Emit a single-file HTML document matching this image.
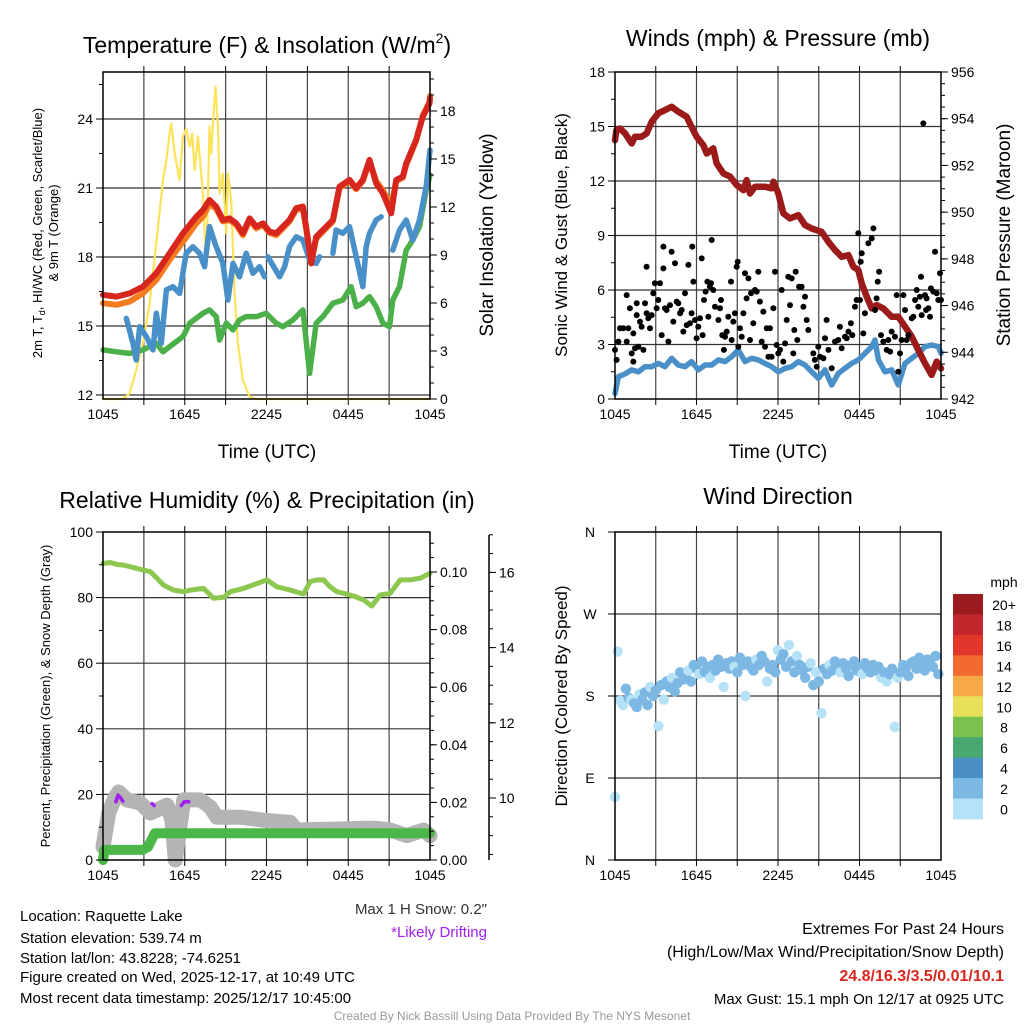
<!DOCTYPE html>
<html><head><meta charset="utf-8"><style>
html,body{margin:0;padding:0;background:#fff;}
svg{display:block;font-family:"Liberation Sans",Arial,sans-serif;}
</style></head><body>
<svg id="chart" xmlns="http://www.w3.org/2000/svg" width="1024" height="1024" viewBox="0 0 1024 1024">
<rect width="1024" height="1024" fill="#fff"/>
<g id="static">
<text x="267" y="53" font-size="23" text-anchor="middle">Temperature (F) &amp; Insolation (W/m<tspan font-size="14" dy="-10">2</tspan><tspan dy="10">)</tspan></text>
<text x="778" y="46" font-size="23" text-anchor="middle">Winds (mph) &amp; Pressure (mb)</text>
<text x="267" y="508" font-size="23" text-anchor="middle">Relative Humidity (%) &amp; Precipitation (in)</text>
<text x="778" y="504" font-size="23" text-anchor="middle">Wind Direction</text>
<text x="267" y="458" font-size="19" text-anchor="middle">Time (UTC)</text>
<text x="778" y="458" font-size="19" text-anchor="middle">Time (UTC)</text>
<text transform="translate(42,233) rotate(-90)" font-size="13" text-anchor="middle">2m T, T<tspan font-size="9" dy="3">d</tspan><tspan dy="-3">, HI/WC (Red, Green, Scarlet/Blue)</tspan></text>
<text transform="translate(58,233) rotate(-90)" font-size="13" text-anchor="middle">&amp; 9m T (Orange)</text>
<text transform="translate(493,235) rotate(-90)" font-size="19" text-anchor="middle">Solar Insolation (Yellow)</text>
<text transform="translate(567,235) rotate(-90)" font-size="17" text-anchor="middle">Sonic Wind &amp; Gust (Blue, Black)</text>
<text transform="translate(1010,235) rotate(-90)" font-size="19" text-anchor="middle">Station Pressure (Maroon)</text>
<text transform="translate(50,696) rotate(-90)" font-size="13" text-anchor="middle">Percent, Precipitation (Green), &amp; Snow Depth (Gray)</text>
<text transform="translate(567,696) rotate(-90)" font-size="17" text-anchor="middle">Direction (Colored By Speed)</text>
<g font-size="15">
<text x="20" y="921">Location: Raquette Lake</text>
<text x="20" y="943">Station elevation: 539.74 m</text>
<text x="20" y="963">Station lat/lon: 43.8228; -74.6251</text>
<text x="20" y="982">Figure created on Wed, 2025-12-17, at 10:49 UTC</text>
<text x="20" y="1003">Most recent data timestamp: 2025/12/17 10:45:00</text>
</g>
<text x="487" y="914" font-size="15" text-anchor="end" fill="#333">Max 1 H Snow: 0.2"</text>
<text x="487" y="937" font-size="15" text-anchor="end" fill="#a020f0">*Likely Drifting</text>
<text x="1004" y="934" font-size="16" text-anchor="end">Extremes For Past 24 Hours</text>
<text x="1004" y="957" font-size="16" text-anchor="end">(High/Low/Max Wind/Precipitation/Snow Depth)</text>
<text x="1004" y="981" font-size="16" font-weight="bold" text-anchor="end" fill="#d7261e">24.8/16.3/3.5/0.01/10.1</text>
<text x="1004" y="1004" font-size="15" text-anchor="end">Max Gust: 15.1 mph On 12/17 at 0925 UTC</text>
<text x="512" y="1020" font-size="12" text-anchor="middle" fill="#999">Created By Nick Bassill Using Data Provided By The NYS Mesonet</text>
</g>
<g id="dyn"></g>
</svg>
<script>
// ---------- DATA ----------
const xTickLabels = ["1045","1645","2245","0445","1045"];
// Panel 1: temperature
const redHours = [0,0.98,1.96,2.93,3.91,4.89,5.87,6.85,7.33,7.82,8.31,8.8,9.29,9.78,10.27,10.76,11.25,11.74,12.22,12.71,13.2,13.69,14.18,14.67,14.91,15.28,15.65,16.14,16.87,17.36,18.09,18.58,19.07,19.56,20.05,20.54,21.15,21.52,22.0,22.25,22.98,23.47,23.96,24];
const redTemp = [16.35,16.28,16.42,16.71,17.29,18.16,19.03,19.75,20.04,20.48,20.19,19.61,19.68,19.46,19.03,19.68,19.32,19.46,19.1,19.03,19.32,19.61,20.12,20.19,19.32,17.72,18.88,19.17,19.61,21.06,21.35,20.99,21.35,22.22,21.2,20.77,19.9,21.35,21.49,22.07,23.09,24.1,24.68,24.9];
const orangeTemp = [15.99,15.92,16.06,16.42,17.0,17.87,18.67,19.46,19.75,20.3,20.1,19.55,19.6,19.4,18.95,19.6,19.25,19.4,19.05,18.95,19.25,19.55,20.05,20.1,19.25,17.8,18.8,19.1,19.55,21.0,21.3,20.95,21.3,22.15,21.3,20.9,20.2,21.3,21.45,22.0,23.05,24.15,24.75,25.0];
const blueHours = [1.71,2.2,2.44,2.69,3.18,3.67,3.91,4.28,4.65,5.13,5.62,6.11,6.6,7.09,7.46,7.82,8.31,8.8,9.17,9.54,10.02,10.51,11.0,11.49,11.86,null,12.1,12.96,13.33,13.69,14.18,14.67,15.16,15.65,15.89,null,16.87,17.11,17.6,18.09,18.58,19.07,19.32,19.56,20.05,20.42,null,21.27,21.76,22.25,22.74,23.23,23.72,24];
const blueTemp = [15.33,14.25,13.52,14.97,14.54,13.96,15.55,14.25,16.57,16.71,16.42,18.16,18.45,18.16,17.58,19.32,18.45,17.72,16.13,17.72,17.14,18.16,17.29,17.58,17.14,null,18.01,17.14,17.58,18.45,18.88,18.74,17.87,17.72,18.01,null,18.16,19.17,19.03,19.32,18.01,16.71,18.45,19.03,19.61,19.75,null,18.3,19.17,19.61,18.74,19.61,21.06,22.65];
const greenHours = [0,0.98,1.96,2.93,3.91,4.4,4.89,5.87,6.36,7.33,7.82,8.31,8.56,9.05,9.54,10.02,10.51,11.25,11.98,12.71,13.2,13.94,14.67,15.16,15.65,16.14,16.87,17.6,18.22,18.58,19.07,19.56,20.05,20.54,21.03,21.27,21.76,22.25,22.74,23.23,23.72,24];
const greenTemp = [13.96,13.88,13.81,13.96,14.25,13.88,14.1,14.54,15.12,15.55,15.7,15.41,14.39,15.12,14.83,15.26,15.41,15.41,15.55,15.12,14.97,15.26,15.7,12.94,15.12,15.41,15.99,16.13,16.71,15.84,15.99,16.28,15.84,15.12,14.97,16.13,16.71,18.3,18.74,19.32,20.91,21.57];
const solarHours = [0,1.47,1.96,2.44,2.93,3.42,3.91,4.4,4.65,4.89,5.01,5.26,5.62,5.87,6.11,6.36,6.55,6.72,6.97,7.33,7.58,7.82,7.95,8.07,8.26,8.44,8.56,8.8,9.05,9.17,9.41,9.66,9.9,10.27,10.76,11.25,24];
const solarVal = [0,0,0.35,1.81,3.48,5.98,9.73,13.69,14.94,16.6,17.23,15.35,13.69,16.4,16.9,15.77,16.6,14.3,16.4,12.85,8.27,17.02,15.35,17.23,19.52,17.02,12.85,14.1,10.35,14.1,12.44,6.6,3.48,1.19,0.15,0,0];
const tempTicks = [12,15,18,21,24];
const solarTicks = [0,3,6,9,12,15,18];
// Panel 2: winds & pressure
const presHours = [0,0.1,0.37,0.74,1.23,1.47,1.96,2.33,2.7,3.19,3.68,4.17,4.66,5.28,5.64,6.01,6.5,6.75,7.24,7.48,7.98,8.47,8.96,9.45,9.69,9.94,10.31,11.04,11.53,11.66,12.02,12.39,12.88,13.5,13.99,14.48,15.21,15.71,16.2,16.69,17.18,17.55,17.91,18.16,18.53,18.9,19.26,19.75,20.37,20.86,21.35,21.84,22.33,22.82,23.31,23.68,24];
const presMb = [953.08,953.51,953.58,953.37,952.94,953.23,953.23,953.37,953.87,954.23,954.37,954.51,954.3,954.08,953.65,953.23,952.87,952.51,952.73,952.09,951.66,951.52,951.16,950.94,951.37,950.8,951.09,951.09,951.02,951.3,950.8,949.95,949.73,949.87,949.45,949.3,949.16,948.73,948.38,948.09,948.16,947.66,947.52,946.95,946.38,945.88,946.02,945.88,945.52,945.52,945.1,944.67,944.1,943.53,943.03,943.6,943.31];
const sonicHours = [0,0.25,0.74,1.23,1.72,2.21,2.7,3.19,3.68,4.17,4.66,5.15,5.64,6.13,6.63,7.12,7.61,8.1,8.59,9.08,9.57,10.06,10.55,11.04,11.53,12.02,12.52,13.01,13.5,13.99,14.48,14.97,15.46,15.95,16.44,16.93,17.42,17.91,18.4,18.9,19.14,19.39,19.88,20.37,20.86,21.35,21.84,22.33,22.82,23.31,23.8,24];
const sonicMph = [0.31,1.23,1.38,1.6,1.5,1.78,1.78,1.96,1.78,2.24,1.87,1.78,2.06,1.6,1.87,1.87,2.15,2.06,2.33,2.7,2.06,2.24,2.15,1.96,1.78,1.5,1.69,1.78,2.06,1.87,1.5,1.14,1.6,0.77,1.41,1.69,1.96,2.15,2.51,2.88,3.25,2.15,1.5,1.6,0.77,1.96,2.24,2.51,2.88,2.97,2.88,2.51];
const gustHours = [0,0.12,0.25,0.37,0.61,0.86,0.86,0.98,1.1,1.23,1.35,1.35,1.47,1.6,1.6,1.72,1.84,1.96,2.09,2.21,2.33,2.33,2.45,2.58,2.7,2.82,2.94,3.07,3.19,3.31,3.44,3.56,3.56,3.68,3.8,3.93,4.05,4.17,4.29,4.42,4.54,4.66,4.79,4.91,5.03,5.15,5.28,5.4,5.52,5.64,5.69,5.77,5.89,6.01,6.13,6.26,6.38,6.45,6.55,6.67,6.8,6.87,6.99,7.07,7.12,7.24,7.36,7.61,7.73,7.8,7.9,8.02,8.1,8.22,8.34,8.54,8.59,8.71,8.83,8.96,9.03,9.08,9.2,9.33,9.45,9.57,9.69,9.82,9.94,10.01,10.18,10.31,10.43,10.55,10.67,10.8,10.92,11.04,11.17,11.29,11.41,11.53,11.66,11.78,11.9,12.02,12.15,12.27,12.39,12.52,12.64,12.76,12.88,13.01,13.13,13.2,13.3,13.42,13.55,13.74,13.87,13.99,14.11,14.23,14.6,14.72,14.85,14.97,15.09,15.34,15.46,15.58,15.71,15.95,16.2,16.44,16.56,16.69,16.93,17.06,17.18,17.37,17.47,17.67,17.79,17.91,18.04,18.09,18.16,18.28,18.4,18.65,18.9,19.02,19.14,19.26,19.34,19.44,19.58,19.75,20.0,20.12,20.25,20.37,20.61,20.74,20.86,20.98,21.1,21.23,21.35,21.47,21.6,21.84,21.96,22.09,22.21,22.33,22.45,22.53,22.58,22.7,22.82,22.9,22.94,23.07,23.19,23.26,23.44,23.56,23.68,23.8,23.93,24.0];
const gustMph = [2.7,2.15,3.16,3.89,3.89,3.16,5.72,3.89,4.99,2.51,3.61,2.06,2.79,5.27,4.62,2.88,4.26,3.98,2.7,5.27,4.72,7.28,4.44,3.89,4.62,5.82,6.37,4.99,5.45,6.37,3.52,8.39,7.19,4.99,4.9,3.16,5.17,8.11,4.26,7.47,5.36,5.27,4.72,4.9,3.71,5.82,4.07,7.38,4.17,4.72,8.39,6.46,4.35,3.34,3.98,4.44,7.74,3.52,5.45,5.91,6.46,4.53,6.18,6.37,8.75,6.0,5.08,4.35,4.99,5.45,3.52,2.7,3.43,3.71,4.53,6.46,3.25,4.26,4.72,7.28,7.56,2.88,3.89,3.43,4.72,6.92,5.54,6.64,3.25,5.82,4.17,6.0,5.91,7.0,5.36,3.16,4.81,2.88,3.89,2.33,3.89,2.33,4.99,7.0,2.97,2.51,2.7,6.0,2.06,3.06,4.35,6.73,5.17,6.64,2.51,3.8,7.0,3.25,6.18,6.18,5.08,5.63,4.35,3.8,2.51,2.15,1.78,2.88,2.33,2.24,3.34,4.35,2.7,1.69,3.16,3.25,3.98,2.79,3.43,3.34,3.71,4.17,3.52,5.08,5.45,9.12,5.45,7.56,8.02,3.61,4.72,8.57,8.84,9.39,4.9,5.54,6.46,7.0,3.52,3.16,2.7,3.25,2.61,3.71,3.43,5.72,1.5,2.51,3.25,5.72,4.9,3.25,3.52,4.44,4.53,5.45,6.0,5.08,5.63,6.73,4.62,15.17,5.72,4.9,5.54,4.99,4.53,6.09,5.91,8.11,5.82,5.45,6.92,5.45];
const windTicks = [0,3,6,9,12,15,18];
const presTicks = [942,944,946,948,950,952,954,956];
// Panel 3: humidity, precip, snow
const rhHours = [0,0.54,1.03,1.52,2.49,3.47,3.96,4.45,5.18,5.92,6.41,7.38,8.12,8.85,9.34,10.32,11.3,12.03,12.76,13.74,14.72,15.21,15.7,16.19,16.67,17.16,17.65,18.39,19.12,19.73,20.34,21.08,21.81,22.54,23.28,24];
const rhPct = [90.4,90.7,90.1,89.9,88.9,87.9,85.9,83.8,82.3,81.8,82.3,82.8,79.8,80.1,81.8,82.8,84.3,85.4,83.3,82.3,81.1,84.9,85.4,85.4,83.3,81.8,81.3,80.5,79.3,77.4,80.8,81.3,85.4,85.4,85.9,87.4];
const precipHours = [0,0.1,2.9,3.3,3.8,24];
const precipIn = [0,0.0035,0.0035,0.0045,0.0093,0.0093];
const snowHours = [0,0.42,0.9,1.15,1.76,2.74,3.47,3.96,4.69,5.06,5.31,5.55,5.92,7.14,7.87,8.36,10.07,11.78,13.74,14.23,19.85,21.08,22.3,23.52,24];
const snowIn = [8.7,9.6,10.03,10.16,9.95,9.87,9.6,9.68,9.81,9.41,8.35,8.96,9.95,9.95,9.76,9.49,9.49,9.41,9.35,9.15,9.2,9.15,9.0,9.15,9.0];
const driftHours = [0.95,1.1,1.25,1.45,null,3.6,3.75,null,5.75,5.95,6.3];
const driftIn = [9.9,10.08,10.02,9.92,null,9.85,9.8,null,9.8,9.9,9.9];
const rhTicks = [0,20,40,60,80,100];
const precipTicks = [0,0.02,0.04,0.06,0.08,0.10];
const snowTicks = [10,12,14,16];
// Panel 4: wind direction (every 0.2 h)
const dirDeg = [69,229,175,170,188,178,176,172,168,182,176,184,170,190,180,186,147,192,176,196,190,200,185,194,206,198,202,208,196,214,210,204,218,206,212,200,214,208,220,212,190,216,210,218,212,206,222,214,180,218,212,208,220,214,224,218,196,210,214,206,230,220,226,212,236,218,206,224,214,208,200,212,216,192,206,196,161,210,204,214,208,218,212,206,216,210,202,214,218,208,212,204,216,210,206,214,208,212,200,206,196,204,210,146,200,206,214,210,202,216,218,210,222,214,208,220,216,212,224,204];
const dirSpeed = [1.5,1.6,1.2,1.4,2.4,2.6,1.7,2.5,2.3,1.8,2.6,2.2,2.5,1.4,2.7,2.6,1.5,2.4,1.8,2.8,2.5,1.6,2.7,2.9,2.4,2.6,2.8,1.9,2.5,2.7,2.4,1.8,2.6,2.8,2.5,1.7,2.9,2.6,2.5,2.7,1.5,2.8,2.4,2.6,1.9,2.7,2.5,2.6,1.7,2.8,2.4,2.6,1.8,2.7,2.5,2.6,1.6,2.5,2.8,2.4,1.5,2.7,2.9,2.5,1.6,2.6,2.4,1.9,2.7,2.5,2.3,2.6,1.8,2.5,1.4,2.6,1.5,2.4,2.7,1.8,2.6,2.5,2.8,1.9,2.7,2.6,2.4,2.8,2.5,2.6,2.7,1.8,2.5,2.6,2.9,2.7,2.4,2.6,1.5,2.8,1.6,2.5,2.7,1.5,1.7,2.6,2.8,2.5,2.4,2.9,2.7,2.5,2.8,2.6,2.4,2.9,2.6,2.7,2.8,2.5];
const dirTickLabels = ["N","E","S","W","N"];
const dirTickValues = [0,90,180,270,360];
const cbarLabels = ["20+","18","16","14","12","10","8","6","4","2","0"];
const cbarColors = ["#9b1a1e","#c1272d","#e0362c","#f26a2f","#f9a847","#e8e05a","#7cc14f","#48a870","#4a8fc6","#7cb8e3","#b5e2f7"];

// ---------- HELPERS ----------
const NS = "http://www.w3.org/2000/svg";
const dyn = document.getElementById("dyn");
function mk(tag, attrs, parent){ const e=document.createElementNS(NS,tag); for(const k in attrs) e.setAttribute(k,attrs[k]); (parent||dyn).appendChild(e); return e; }
function lin(d0,d1,r0,r1){ return v => r0 + (v-d0)*(r1-r0)/(d1-d0); }
function pathD(xs, ys, sx, sy){
  let d="", pen=false;
  for(let i=0;i<xs.length;i++){
    if(xs[i]===null||ys[i]===null){ pen=false; continue; }
    d += (pen?"L":"M")+sx(xs[i]).toFixed(1)+","+sy(ys[i]).toFixed(1);
    pen=true;
  }
  return d;
}
function frame(x0,y0,x1,y1,sx,grid,name){
  const g=mk("g",{});
  
  
  for(let h=3;h<24;h+=3){
    const l=mk("line",{x1:sx(h),x2:sx(h),y1:y0,y2:y1,stroke:"#444","stroke-width":1.2},g);
    
    
    const t=mk("line",{x1:sx(h),x2:sx(h),y1:y1,y2:y1+6,stroke:"#000","stroke-width":1},g);
    
    
    const t2=mk("line",{x1:sx(h),x2:sx(h),y1:y0-6,y2:y0,stroke:"#000","stroke-width":1},g);
    
    
  }
  grid.forEach(y=>{
    const l=mk("line",{x1:x0,x2:x1,y1:y,y2:y,stroke:"#333","stroke-width":1.2},g);
    
    
  });
  xTickLabels.forEach((s,i)=>{
    const t=mk("text",{x:sx(i*6),y:y1+20,"font-size":14,"text-anchor":"middle"},g);
    t.textContent=s;
    
    
  });
  return g;
}
function border(x0,y0,x1,y1){
  const r=mk("rect",{x:x0,y:y0,width:x1-x0,height:y1-y0,fill:"none",stroke:"#000","stroke-width":1.5});
  
  
}
function yAxis(ticks,sy,x,side,fmt,minor,name){
  ticks.forEach(v=>{
    const y=sy(v);
    const l=mk("line",{x1:x,x2:x+(side<0?-7:7),y1:y,y2:y,stroke:"#000"});
    
    
    const t=mk("text",{x:x+(side<0?-10:10),y:y+5,"font-size":14,"text-anchor":side<0?"end":"start"});
    t.textContent=fmt(v);
    
    
  });
  (minor||[]).forEach(v=>{
    const y=sy(v);
    const l=mk("line",{x1:x,x2:x+(side<0?-4:4),y1:y,y2:y,stroke:"#000"});
    
    
  });
}
function line(xs,ys,sx,sy,color,w,name,cap){
  const p=mk("path",{d:pathD(xs,ys,sx,sy),fill:"none",stroke:color,"stroke-width":w,"stroke-linejoin":"round","stroke-linecap":cap||"round"});
  
  
  return p;
}
function minorRange(a,b,step){ const r=[]; for(let v=a; v<=b+1e-9; v+=step) r.push(+v.toFixed(4)); return r; }

// ---------- PANEL 1 ----------
(function(){
  const x0=103,x1=430,y0=72,y1=399;
  const sx=lin(0,24,x0,x1), sy=lin(12,24,395,119), ss=lin(0,18,399,111);
  frame(x0,y0,x1,y1,sx,tempTicks.map(sy),"temperature-grid");
  line(solarHours,solarVal,sx,ss,"#fde35a",2.2,"insolation-line");
  line(greenHours,greenTemp,sx,sy,"#4cb04a",5.5,"dewpoint-line");
  line(blueHours,blueTemp,sx,sy,"#4a90c8",5.5,"windchill-line");
  line(redHours,orangeTemp,sx,sy,"#f47c20",6,"temp-9m-line");
  line(redHours,redTemp,sx,sy,"#d7261e",6,"temp-2m-line");
  border(x0,y0,x1,y1);
  yAxis(tempTicks,sy,x0,-1,v=>v,minorRange(13.5,25.5,3),"temp-y");
  yAxis(solarTicks,ss,x1,1,v=>v,minorRange(1,20,1),"solar-y");
})();

// ---------- PANEL 2 ----------
(function(){
  const x0=615,x1=941,y0=72,y1=399;
  const sx=lin(0,24,x0,x1), sy=lin(0,18,399,72), sp=lin(942,956,399,72);
  frame(x0,y0,x1,y1,sx,[3,6,9,12,15].map(sy),"wind-grid");
  line(sonicHours,sonicMph,sx,sy,"#4a90c8",5.5,"sonic-wind-line");
  line(presHours,presMb,sx,sp,"#9b1b1b",6.5,"pressure-line");
  gustHours.forEach((h,i)=>{
    const c=mk("circle",{cx:sx(h).toFixed(1),cy:sy(gustMph[i]).toFixed(1),r:3,fill:"#000"});
    
    
  });
  border(x0,y0,x1,y1);
  yAxis(windTicks,sy,x0,-1,v=>v,minorRange(1.5,16.5,3),"wind-y");
  yAxis(presTicks,sp,x1,1,v=>v,minorRange(942.5,955.5,0.5),"pressure-y");
})();

// ---------- PANEL 3 ----------
(function(){
  const x0=103,x1=430,y0=532,y1=860;
  const sx=lin(0,24,x0,x1), sy=lin(0,100,860,532), sp=lin(0,0.10,860,572), sn=lin(10,16,798,572.4);
  frame(x0,y0,x1,y1,sx,[20,40,60,80].map(sy),"humidity-grid");
  line(snowHours,snowIn,sx,sn,"#b4b4b4",15,"snow-depth-line");
  line(driftHours,driftIn,sx,sn,"#a020f0",3.5,"drifting-marks");
  line(precipHours,precipIn,sx,sp,"#4bb748",10,"precip-line");
  line(rhHours,rhPct,sx,sy,"#8cc850",5,"humidity-line");
  border(x0,y0,x1,y1);
  yAxis(rhTicks,sy,x0,-1,v=>v,minorRange(10,90,20),"rh-y");
  yAxis(precipTicks,sp,x1,1,v=>v.toFixed(2),minorRange(0.005,0.11,0.005),"precip-y");
  const ax=mk("line",{x1:489,x2:489,y1:535,y2:860,stroke:"#000","stroke-width":1.5});
  
  
  yAxis(snowTicks,sn,489,1,v=>v,minorRange(8.5,17,0.5),"snow-y");
})();

// ---------- PANEL 4 ----------
(function(){
  const x0=615,x1=941,y0=532,y1=860;
  const sx=lin(0,24,x0,x1), sy=lin(0,360,860,532);
  frame(x0,y0,x1,y1,sx,[90,180,270].map(sy),"direction-grid");
  const speedColor = s => cbarColors[10-Math.min(10,Math.floor(s/2))];
  dirDeg.forEach((d,i)=>{
    const c=mk("circle",{cx:sx(i*0.2).toFixed(1),cy:sy(d).toFixed(1),r:5.2,fill:speedColor(dirSpeed[i])});
    
    
  });
  border(x0,y0,x1,y1);
  dirTickValues.forEach((v,i)=>{
    const l=mk("line",{x1:x0,x2:x0-7,y1:sy(v),y2:sy(v),stroke:"#000"});
    
    
    const t=mk("text",{x:590,y:sy(v)+5,"font-size":14,"text-anchor":"middle"});
    t.textContent=dirTickLabels[i];
    
    
  });
  const m=mk("text",{x:1004,y:587,"font-size":14,"text-anchor":"middle"});
  m.textContent="mph";
  
  
  cbarColors.forEach((c,i)=>{
    const r=mk("rect",{x:953,y:594+i*20.45,width:30,height:20.8,fill:c});
    
    
    const t=mk("text",{x:1004,y:594+i*20.45+16,"font-size":14,"text-anchor":"middle"});
    t.textContent=cbarLabels[i];
    
    
  });
})();
</script>
</body></html>
